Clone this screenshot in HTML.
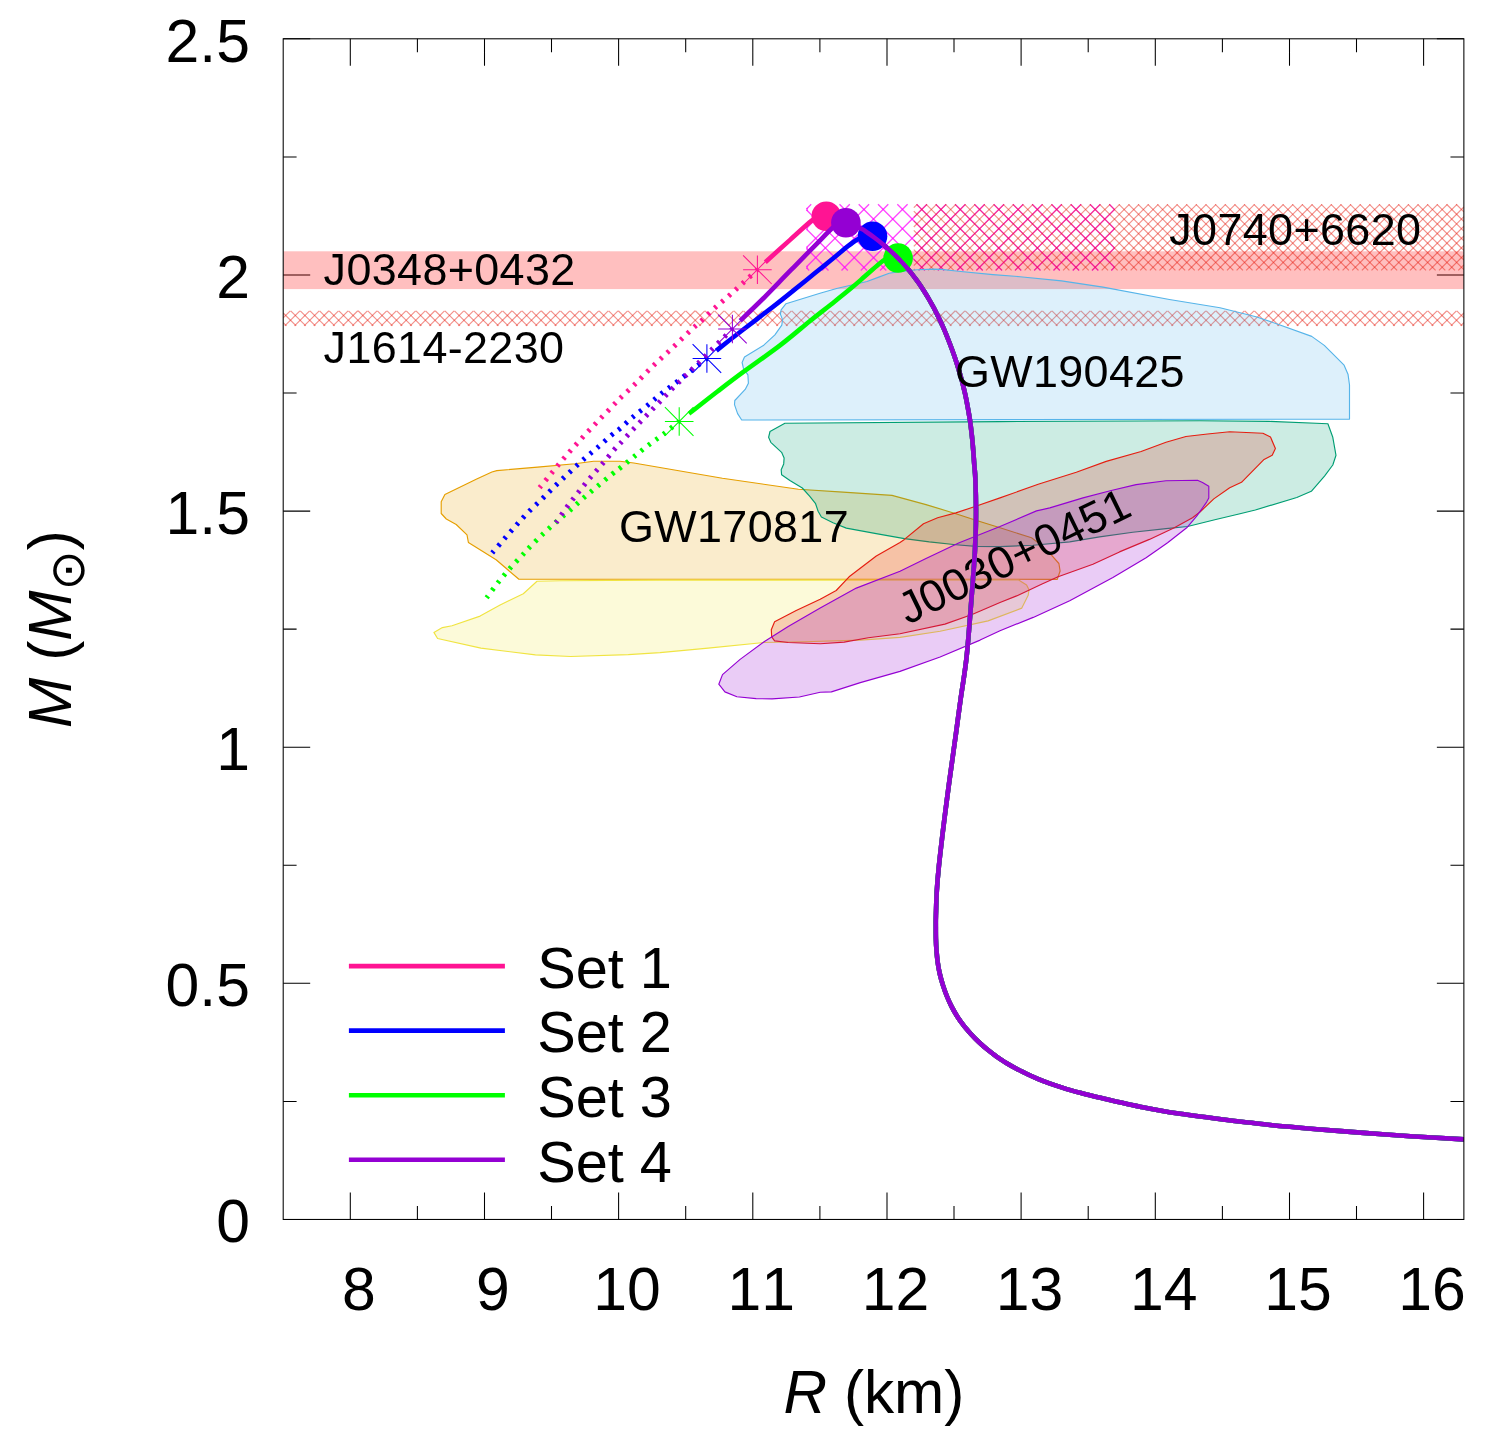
<!DOCTYPE html>
<html lang="en"><head><meta charset="utf-8"><title>Mass-radius relation</title>
<style>html,body{margin:0;padding:0;background:#fff;overflow:hidden}svg{display:block}text{font-family:"Liberation Sans",sans-serif;fill:#000;font-kerning:none}.an{letter-spacing:0.36px}</style>
</head><body>
<svg width="1498" height="1446" viewBox="0 0 1498 1446">
<rect width="1498" height="1446" fill="#fff"/>
<clipPath id="fr"><rect x="283.2" y="38.8" width="1180.6699999999998" height="1180.65"/></clipPath>
<path d="M350.3,1219.45V1192.45M350.3,38.8V65.8M484.5,1219.45V1192.45M484.5,38.8V65.8M618.6,1219.45V1192.45M618.6,38.8V65.8M752.8,1219.45V1192.45M752.8,38.8V65.8M887.0,1219.45V1192.45M887.0,38.8V65.8M1021.1,1219.45V1192.45M1021.1,38.8V65.8M1155.3,1219.45V1192.45M1155.3,38.8V65.8M1289.5,1219.45V1192.45M1289.5,38.8V65.8M1423.6,1219.45V1192.45M1423.6,38.8V65.8M417.4,1219.45V1206.05M417.4,38.8V52.199999999999996M551.5,1219.45V1206.05M551.5,38.8V52.199999999999996M685.7,1219.45V1206.05M685.7,38.8V52.199999999999996M819.9,1219.45V1206.05M819.9,38.8V52.199999999999996M954.0,1219.45V1206.05M954.0,38.8V52.199999999999996M1088.2,1219.45V1206.05M1088.2,38.8V52.199999999999996M1222.4,1219.45V1206.05M1222.4,38.8V52.199999999999996M1356.5,1219.45V1206.05M1356.5,38.8V52.199999999999996M283.2,1219.5H310.2M1463.87,1219.5H1436.87M283.2,1101.4H296.59999999999997M1463.87,1101.4H1450.4699999999998M283.2,983.3H310.2M1463.87,983.3H1436.87M283.2,865.3H296.59999999999997M1463.87,865.3H1450.4699999999998M283.2,747.2H310.2M1463.87,747.2H1436.87M283.2,629.1H296.59999999999997M1463.87,629.1H1450.4699999999998M283.2,511.1H310.2M1463.87,511.1H1436.87M283.2,393.0H296.59999999999997M1463.87,393.0H1450.4699999999998M283.2,274.9H310.2M1463.87,274.9H1436.87M283.2,156.9H296.59999999999997M1463.87,156.9H1450.4699999999998M283.2,38.8H310.2M1463.87,38.8H1436.87" stroke="#000" stroke-width="1.05" fill="none"/>
<g clip-path="url(#fr)">
<rect x="283.2" y="251.3" width="1180.6699999999998" height="37.8" fill="#ff0000" fill-opacity="0.25"/>
<path d="M283.2,322.6L286.5,325.9M283.2,313.0L296.2,325.9M290.7,310.8L305.8,325.9M300.3,310.8L315.4,325.9M310.0,310.8L325.1,325.9M319.6,310.8L334.7,325.9M329.2,310.8L344.3,325.9M338.9,310.8L354.0,325.9M348.5,310.8L363.6,325.9M358.1,310.8L373.3,325.9M367.8,310.8L382.9,325.9M377.4,310.8L392.5,325.9M387.1,310.8L402.2,325.9M396.7,310.8L411.8,325.9M406.3,310.8L421.4,325.9M416.0,310.8L431.1,325.9M425.6,310.8L440.7,325.9M435.2,310.8L450.4,325.9M444.9,310.8L460.0,325.9M454.5,310.8L469.6,325.9M464.2,310.8L479.3,325.9M473.8,310.8L488.9,325.9M483.4,310.8L498.5,325.9M493.1,310.8L508.2,325.9M502.7,310.8L517.8,325.9M512.3,310.8L527.4,325.9M522.0,310.8L537.1,325.9M531.6,310.8L546.7,325.9M541.2,310.8L556.4,325.9M550.9,310.8L566.0,325.9M560.5,310.8L575.6,325.9M570.2,310.8L585.3,325.9M579.8,310.8L594.9,325.9M589.4,310.8L604.5,325.9M599.1,310.8L614.2,325.9M608.7,310.8L623.8,325.9M618.3,310.8L633.5,325.9M628.0,310.8L643.1,325.9M637.6,310.8L652.7,325.9M647.3,310.8L662.4,325.9M656.9,310.8L672.0,325.9M666.5,310.8L681.6,325.9M676.2,310.8L691.3,325.9M685.8,310.8L700.9,325.9M695.4,310.8L710.6,325.9M705.1,310.8L720.2,325.9M714.7,310.8L729.8,325.9M724.4,310.8L739.5,325.9M734.0,310.8L749.1,325.9M743.6,310.8L758.7,325.9M753.3,310.8L768.4,325.9M762.9,310.8L778.0,325.9M772.5,310.8L787.6,325.9M782.2,310.8L797.3,325.9M791.8,310.8L806.9,325.9M801.4,310.8L816.6,325.9M811.1,310.8L826.2,325.9M820.7,310.8L835.8,325.9M830.4,310.8L845.5,325.9M840.0,310.8L855.1,325.9M849.6,310.8L864.7,325.9M859.3,310.8L874.4,325.9M868.9,310.8L884.0,325.9M878.5,310.8L893.7,325.9M888.2,310.8L903.3,325.9M897.8,310.8L912.9,325.9M907.5,310.8L922.6,325.9M917.1,310.8L932.2,325.9M926.7,310.8L941.8,325.9M936.4,310.8L951.5,325.9M946.0,310.8L961.1,325.9M955.6,310.8L970.8,325.9M965.3,310.8L980.4,325.9M974.9,310.8L990.0,325.9M984.6,310.8L999.7,325.9M994.2,310.8L1009.3,325.9M1003.8,310.8L1018.9,325.9M1013.5,310.8L1028.6,325.9M1023.1,310.8L1038.2,325.9M1032.7,310.8L1047.9,325.9M1042.4,310.8L1057.5,325.9M1052.0,310.8L1067.1,325.9M1061.7,310.8L1076.8,325.9M1071.3,310.8L1086.4,325.9M1080.9,310.8L1096.0,325.9M1090.6,310.8L1105.7,325.9M1100.2,310.8L1115.3,325.9M1109.8,310.8L1124.9,325.9M1119.5,310.8L1134.6,325.9M1129.1,310.8L1144.2,325.9M1138.7,310.8L1153.9,325.9M1148.4,310.8L1163.5,325.9M1158.0,310.8L1173.1,325.9M1167.7,310.8L1182.8,325.9M1177.3,310.8L1192.4,325.9M1186.9,310.8L1202.0,325.9M1196.6,310.8L1211.7,325.9M1206.2,310.8L1221.3,325.9M1215.8,310.8L1231.0,325.9M1225.5,310.8L1240.6,325.9M1235.1,310.8L1250.2,325.9M1244.8,310.8L1259.9,325.9M1254.4,310.8L1269.5,325.9M1264.0,310.8L1279.1,325.9M1273.7,310.8L1288.8,325.9M1283.3,310.8L1298.4,325.9M1292.9,310.8L1308.1,325.9M1302.6,310.8L1317.7,325.9M1312.2,310.8L1327.3,325.9M1321.9,310.8L1337.0,325.9M1331.5,310.8L1346.6,325.9M1341.1,310.8L1356.2,325.9M1350.8,310.8L1365.9,325.9M1360.4,310.8L1375.5,325.9M1370.0,310.8L1385.2,325.9M1379.7,310.8L1394.8,325.9M1389.3,310.8L1404.4,325.9M1398.9,310.8L1414.1,325.9M1408.6,310.8L1423.7,325.9M1418.2,310.8L1433.3,325.9M1427.9,310.8L1443.0,325.9M1437.5,310.8L1452.6,325.9M1447.1,310.8L1462.2,325.9M1456.8,310.8L1463.9,317.9" stroke="#e51e10" stroke-opacity="0.48" stroke-width="1.2" fill="none"/>
<path d="M283.2,317.9L290.3,310.8M284.8,325.9L299.9,310.8M294.5,325.9L309.6,310.8M304.1,325.9L319.2,310.8M313.7,325.9L328.9,310.8M323.4,325.9L338.5,310.8M333.0,325.9L348.1,310.8M342.6,325.9L357.8,310.8M352.3,325.9L367.4,310.8M361.9,325.9L377.0,310.8M371.6,325.9L386.7,310.8M381.2,325.9L396.3,310.8M390.8,325.9L405.9,310.8M400.5,325.9L415.6,310.8M410.1,325.9L425.2,310.8M419.7,325.9L434.9,310.8M429.4,325.9L444.5,310.8M439.0,325.9L454.1,310.8M448.7,325.9L463.8,310.8M458.3,325.9L473.4,310.8M467.9,325.9L483.0,310.8M477.6,325.9L492.7,310.8M487.2,325.9L502.3,310.8M496.8,325.9L512.0,310.8M506.5,325.9L521.6,310.8M516.1,325.9L531.2,310.8M525.8,325.9L540.9,310.8M535.4,325.9L550.5,310.8M545.0,325.9L560.1,310.8M554.7,325.9L569.8,310.8M564.3,325.9L579.4,310.8M573.9,325.9L589.1,310.8M583.6,325.9L598.7,310.8M593.2,325.9L608.3,310.8M602.9,325.9L618.0,310.8M612.5,325.9L627.6,310.8M622.1,325.9L637.2,310.8M631.8,325.9L646.9,310.8M641.4,325.9L656.5,310.8M651.0,325.9L666.1,310.8M660.7,325.9L675.8,310.8M670.3,325.9L685.4,310.8M679.9,325.9L695.1,310.8M689.6,325.9L704.7,310.8M699.2,325.9L714.3,310.8M708.9,325.9L724.0,310.8M718.5,325.9L733.6,310.8M728.1,325.9L743.2,310.8M737.8,325.9L752.9,310.8M747.4,325.9L762.5,310.8M757.0,325.9L772.2,310.8M766.7,325.9L781.8,310.8M776.3,325.9L791.4,310.8M786.0,325.9L801.1,310.8M795.6,325.9L810.7,310.8M805.2,325.9L820.3,310.8M814.9,325.9L830.0,310.8M824.5,325.9L839.6,310.8M834.1,325.9L849.3,310.8M843.8,325.9L858.9,310.8M853.4,325.9L868.5,310.8M863.1,325.9L878.2,310.8M872.7,325.9L887.8,310.8M882.3,325.9L897.4,310.8M892.0,325.9L907.1,310.8M901.6,325.9L916.7,310.8M911.2,325.9L926.4,310.8M920.9,325.9L936.0,310.8M930.5,325.9L945.6,310.8M940.1,325.9L955.3,310.8M949.8,325.9L964.9,310.8M959.4,325.9L974.5,310.8M969.1,325.9L984.2,310.8M978.7,325.9L993.8,310.8M988.3,325.9L1003.4,310.8M998.0,325.9L1013.1,310.8M1007.6,325.9L1022.7,310.8M1017.2,325.9L1032.4,310.8M1026.9,325.9L1042.0,310.8M1036.5,325.9L1051.6,310.8M1046.2,325.9L1061.3,310.8M1055.8,325.9L1070.9,310.8M1065.4,325.9L1080.5,310.8M1075.1,325.9L1090.2,310.8M1084.7,325.9L1099.8,310.8M1094.3,325.9L1109.5,310.8M1104.0,325.9L1119.1,310.8M1113.6,325.9L1128.7,310.8M1123.3,325.9L1138.4,310.8M1132.9,325.9L1148.0,310.8M1142.5,325.9L1157.6,310.8M1152.2,325.9L1167.3,310.8M1161.8,325.9L1176.9,310.8M1171.4,325.9L1186.6,310.8M1181.1,325.9L1196.2,310.8M1190.7,325.9L1205.8,310.8M1200.4,325.9L1215.5,310.8M1210.0,325.9L1225.1,310.8M1219.6,325.9L1234.7,310.8M1229.3,325.9L1244.4,310.8M1238.9,325.9L1254.0,310.8M1248.5,325.9L1263.6,310.8M1258.2,325.9L1273.3,310.8M1267.8,325.9L1282.9,310.8M1277.4,325.9L1292.6,310.8M1287.1,325.9L1302.2,310.8M1296.7,325.9L1311.8,310.8M1306.4,325.9L1321.5,310.8M1316.0,325.9L1331.1,310.8M1325.6,325.9L1340.7,310.8M1335.3,325.9L1350.4,310.8M1344.9,325.9L1360.0,310.8M1354.5,325.9L1369.7,310.8M1364.2,325.9L1379.3,310.8M1373.8,325.9L1388.9,310.8M1383.5,325.9L1398.6,310.8M1393.1,325.9L1408.2,310.8M1402.7,325.9L1417.8,310.8M1412.4,325.9L1427.5,310.8M1422.0,325.9L1437.1,310.8M1431.6,325.9L1446.8,310.8M1441.3,325.9L1456.4,310.8M1450.9,325.9L1463.9,313.0M1460.6,325.9L1463.9,322.6" stroke="#e51e10" stroke-opacity="0.48" stroke-width="1.2" fill="none"/>
<path d="M806.6,267.8L809.2,270.4M806.6,248.5L828.5,270.4M806.6,229.2L847.8,270.4M806.6,210.0L867.0,270.4M820.2,204.3L886.3,270.4M839.5,204.3L905.6,270.4M858.7,204.3L924.9,270.4M878.0,204.3L944.1,270.4M897.3,204.3L963.4,270.4M916.6,204.3L982.7,270.4M935.8,204.3L1002.0,270.4M955.1,204.3L1021.2,270.4M974.4,204.3L1040.5,270.4M993.7,204.3L1059.8,270.4M1012.9,204.3L1079.1,270.4M1032.2,204.3L1098.3,270.4M1051.5,204.3L1114.7,267.5M1070.8,204.3L1114.7,248.2M1090.0,204.3L1114.7,229.0M1109.3,204.3L1114.7,209.7" stroke="#ff00ff" stroke-opacity="0.72" stroke-width="1.35" fill="none"/>
<path d="M806.6,208.9L811.2,204.3M806.6,228.2L830.5,204.3M806.6,247.5L849.8,204.3M806.6,266.7L869.1,204.3M822.2,270.4L888.3,204.3M841.5,270.4L907.6,204.3M860.8,270.4L926.9,204.3M880.0,270.4L946.1,204.3M899.3,270.4L965.4,204.3M918.6,270.4L984.7,204.3M937.9,270.4L1004.0,204.3M957.1,270.4L1023.2,204.3M976.4,270.4L1042.5,204.3M995.7,270.4L1061.8,204.3M1015.0,270.4L1081.1,204.3M1034.2,270.4L1100.3,204.3M1053.5,270.4L1114.7,209.2M1072.8,270.4L1114.7,228.5M1092.0,270.4L1114.7,247.8M1111.3,270.4L1114.7,267.0" stroke="#ff00ff" stroke-opacity="0.72" stroke-width="1.35" fill="none"/>
<path d="M807.0,208.5V210.4M807.0,227.8V229.6M807.0,247.1V248.9M807.0,266.3V268.2" stroke="#ff00ff" stroke-opacity="0.72" stroke-width="1.35" stroke-linecap="round" fill="none"/>
<path d="M913.8,269.0L915.2,270.4M913.8,259.3L924.9,270.4M913.8,249.7L934.5,270.4M913.8,240.1L944.1,270.4M913.8,230.4L953.8,270.4M913.8,220.8L963.4,270.4M913.8,211.1L973.1,270.4M916.6,204.3L982.7,270.4M926.2,204.3L992.3,270.4M935.8,204.3L1002.0,270.4M945.5,204.3L1011.6,270.4M955.1,204.3L1021.2,270.4M964.8,204.3L1030.9,270.4M974.4,204.3L1040.5,270.4M984.0,204.3L1050.1,270.4M993.7,204.3L1059.8,270.4M1003.3,204.3L1069.4,270.4M1012.9,204.3L1079.1,270.4M1022.6,204.3L1088.7,270.4M1032.2,204.3L1098.3,270.4M1041.9,204.3L1108.0,270.4M1051.5,204.3L1117.6,270.4M1061.1,204.3L1127.2,270.4M1070.8,204.3L1136.9,270.4M1080.4,204.3L1146.5,270.4M1090.0,204.3L1156.2,270.4M1099.7,204.3L1165.8,270.4M1109.3,204.3L1175.4,270.4M1119.0,204.3L1185.1,270.4M1128.6,204.3L1194.7,270.4M1138.2,204.3L1204.3,270.4M1147.9,204.3L1214.0,270.4M1157.5,204.3L1223.6,270.4M1167.1,204.3L1233.3,270.4M1176.8,204.3L1242.9,270.4M1186.4,204.3L1252.5,270.4M1196.0,204.3L1262.2,270.4M1205.7,204.3L1271.8,270.4M1215.3,204.3L1281.4,270.4M1225.0,204.3L1291.1,270.4M1234.6,204.3L1300.7,270.4M1244.2,204.3L1310.3,270.4M1253.9,204.3L1320.0,270.4M1263.5,204.3L1329.6,270.4M1273.1,204.3L1339.3,270.4M1282.8,204.3L1348.9,270.4M1292.4,204.3L1358.5,270.4M1302.1,204.3L1368.2,270.4M1311.7,204.3L1377.8,270.4M1321.3,204.3L1387.4,270.4M1331.0,204.3L1397.1,270.4M1340.6,204.3L1406.7,270.4M1350.2,204.3L1416.4,270.4M1359.9,204.3L1426.0,270.4M1369.5,204.3L1435.6,270.4M1379.2,204.3L1445.3,270.4M1388.8,204.3L1454.9,270.4M1398.4,204.3L1463.9,269.7M1408.1,204.3L1463.9,260.1M1417.7,204.3L1463.9,250.5M1427.3,204.3L1463.9,240.8M1437.0,204.3L1463.9,231.2M1446.6,204.3L1463.9,221.5M1456.2,204.3L1463.9,211.9" stroke="#e51e10" stroke-opacity="0.48" stroke-width="1.2" fill="none"/>
<path d="M913.8,207.7L917.2,204.3M913.8,217.4L926.9,204.3M913.8,227.0L936.5,204.3M913.8,236.7L946.1,204.3M913.8,246.3L955.8,204.3M913.8,255.9L965.4,204.3M913.8,265.6L975.1,204.3M918.6,270.4L984.7,204.3M928.2,270.4L994.3,204.3M937.9,270.4L1004.0,204.3M947.5,270.4L1013.6,204.3M957.1,270.4L1023.2,204.3M966.8,270.4L1032.9,204.3M976.4,270.4L1042.5,204.3M986.0,270.4L1052.2,204.3M995.7,270.4L1061.8,204.3M1005.3,270.4L1071.4,204.3M1015.0,270.4L1081.1,204.3M1024.6,270.4L1090.7,204.3M1034.2,270.4L1100.3,204.3M1043.9,270.4L1110.0,204.3M1053.5,270.4L1119.6,204.3M1063.1,270.4L1129.3,204.3M1072.8,270.4L1138.9,204.3M1082.4,270.4L1148.5,204.3M1092.0,270.4L1158.2,204.3M1101.7,270.4L1167.8,204.3M1111.3,270.4L1177.4,204.3M1121.0,270.4L1187.1,204.3M1130.6,270.4L1196.7,204.3M1140.2,270.4L1206.3,204.3M1149.9,270.4L1216.0,204.3M1159.5,270.4L1225.6,204.3M1169.1,270.4L1235.3,204.3M1178.8,270.4L1244.9,204.3M1188.4,270.4L1254.5,204.3M1198.1,270.4L1264.2,204.3M1207.7,270.4L1273.8,204.3M1217.3,270.4L1283.4,204.3M1227.0,270.4L1293.1,204.3M1236.6,270.4L1302.7,204.3M1246.2,270.4L1312.4,204.3M1255.9,270.4L1322.0,204.3M1265.5,270.4L1331.6,204.3M1275.2,270.4L1341.3,204.3M1284.8,270.4L1350.9,204.3M1294.4,270.4L1360.5,204.3M1304.1,270.4L1370.2,204.3M1313.7,270.4L1379.8,204.3M1323.3,270.4L1389.5,204.3M1333.0,270.4L1399.1,204.3M1342.6,270.4L1408.7,204.3M1352.2,270.4L1418.4,204.3M1361.9,270.4L1428.0,204.3M1371.5,270.4L1437.6,204.3M1381.2,270.4L1447.3,204.3M1390.8,270.4L1456.9,204.3M1400.4,270.4L1463.9,207.0M1410.1,270.4L1463.9,216.6M1419.7,270.4L1463.9,226.2M1429.3,270.4L1463.9,235.9M1439.0,270.4L1463.9,245.5M1448.6,270.4L1463.9,255.2M1458.3,270.4L1463.9,264.8" stroke="#e51e10" stroke-opacity="0.48" stroke-width="1.2" fill="none"/>
<path d="M518.9,579.2L496.1,559.8L468.4,542.5L467.0,534.9L456.2,524.5L446.3,519.0L441.2,513.5L441.2,501.7L444.9,494.5L476.7,478.9L491.9,472.0L496.8,470.6L537.6,467.1L574.9,463.7L593.6,461.3L620.0,461.2L633.8,463.0L722.4,478.2L798.4,489.3L843.0,492.1L892.0,495.4L926.0,504.6L955.9,513.7L975.8,520.3L1000.0,527.8L1031.5,537.8L1038.2,542.7L1051.5,555.2L1058.9,563.5L1060.1,571.0L1057.3,579.3Z" fill="#e69f00" fill-opacity="0.2" stroke="none"/>
<path d="M518.9,579.2L496.1,559.8L468.4,542.5L467.0,534.9L456.2,524.5L446.3,519.0L441.2,513.5L441.2,501.7L444.9,494.5L476.7,478.9L491.9,472.0L496.8,470.6L537.6,467.1L574.9,463.7L593.6,461.3L620.0,461.2L633.8,463.0L722.4,478.2L798.4,489.3L843.0,492.1L892.0,495.4L926.0,504.6L955.9,513.7L975.8,520.3L1000.0,527.8L1031.5,537.8L1038.2,542.7L1051.5,555.2L1058.9,563.5L1060.1,571.0L1057.3,579.3Z" fill="none" stroke="#e69f00" stroke-width="1.15" stroke-linejoin="round"/>
<path d="M1018.6,580.0L660.0,580.1L560.0,580.7L537.0,581.3L523.3,593.7L500.1,604.9L480.1,616.1L452.0,625.7L442.4,627.6L433.9,632.4L437.6,638.5L480.9,648.1L535.4,654.9L570.6,656.5L628.3,654.6L660.0,652.6L708.1,648.1L764.1,642.5L804.2,641.7L860.3,640.1L900.0,637.4L940.1,631.3L988.1,620.9L1021.8,608.1L1028.2,595.3L1029.0,589.7L1026.6,584.9Z" fill="#f0e442" fill-opacity="0.2" stroke="none"/>
<path d="M1018.6,580.0L660.0,580.1L560.0,580.7L537.0,581.3L523.3,593.7L500.1,604.9L480.1,616.1L452.0,625.7L442.4,627.6L433.9,632.4L437.6,638.5L480.9,648.1L535.4,654.9L570.6,656.5L628.3,654.6L660.0,652.6L708.1,648.1L764.1,642.5L804.2,641.7L860.3,640.1L900.0,637.4L940.1,631.3L988.1,620.9L1021.8,608.1L1028.2,595.3L1029.0,589.7L1026.6,584.9Z" fill="none" stroke="#f0e442" stroke-width="1.15" stroke-linejoin="round"/>
<path d="M741.7,420.0L737.6,413.6L734.5,404.6L734.8,400.5L745.2,389.4L748.4,383.2L747.9,374.9L743.5,368.7L742.1,362.5L744.5,356.9L763.8,345.2L774.9,334.8L781.8,325.1L782.5,319.6L780.4,314.1L781.1,309.9L786.0,303.7L820.0,293.3L836.6,288.5L867.0,281.5L878.1,277.4L889.2,273.3L897.5,271.9L916.8,269.8L933.4,269.1L941.7,269.4L958.3,271.2L992.9,274.6L1020.0,276.7L1061.5,280.9L1103.0,287.1L1169.4,299.5L1220.0,307.8L1256.0,316.7L1279.3,324.7L1311.7,336.4L1324.3,345.4L1344.1,365.2L1348.0,374.2L1349.5,385.0L1349.5,419.1Z" fill="#56b4e9" fill-opacity="0.2" stroke="none"/>
<path d="M741.7,420.0L737.6,413.6L734.5,404.6L734.8,400.5L745.2,389.4L748.4,383.2L747.9,374.9L743.5,368.7L742.1,362.5L744.5,356.9L763.8,345.2L774.9,334.8L781.8,325.1L782.5,319.6L780.4,314.1L781.1,309.9L786.0,303.7L820.0,293.3L836.6,288.5L867.0,281.5L878.1,277.4L889.2,273.3L897.5,271.9L916.8,269.8L933.4,269.1L941.7,269.4L958.3,271.2L992.9,274.6L1020.0,276.7L1061.5,280.9L1103.0,287.1L1169.4,299.5L1220.0,307.8L1256.0,316.7L1279.3,324.7L1311.7,336.4L1324.3,345.4L1344.1,365.2L1348.0,374.2L1349.5,385.0L1349.5,419.1Z" fill="none" stroke="#56b4e9" stroke-width="1.15" stroke-linejoin="round"/>
<path d="M784.9,423.2L770.0,431.5L768.6,437.3L770.8,442.3L781.6,452.3L784.1,458.1L783.7,463.9L781.2,469.7L781.6,474.7L789.9,480.5L802.3,488.0L809.8,496.3L815.6,503.7L818.1,511.2L821.4,517.0L833.0,522.8L846.3,528.1L876.2,533.6L904.4,538.6L929.3,541.9L955.9,544.7L975.8,546.4L1000.0,546.6L1033.2,545.2L1069.7,541.9L1099.6,536.9L1132.8,532.3L1166.0,528.6L1187.6,526.5L1215.8,519.5L1240.0,513.7L1255.3,510.0L1296.8,497.5L1311.3,491.3L1324.5,476.1L1332.8,465.0L1336.0,455.3L1332.8,437.3L1327.9,423.8L1269.2,421.4L1200.0,420.7L1000.0,421.6Z" fill="#009e73" fill-opacity="0.2" stroke="none"/>
<path d="M784.9,423.2L770.0,431.5L768.6,437.3L770.8,442.3L781.6,452.3L784.1,458.1L783.7,463.9L781.2,469.7L781.6,474.7L789.9,480.5L802.3,488.0L809.8,496.3L815.6,503.7L818.1,511.2L821.4,517.0L833.0,522.8L846.3,528.1L876.2,533.6L904.4,538.6L929.3,541.9L955.9,544.7L975.8,546.4L1000.0,546.6L1033.2,545.2L1069.7,541.9L1099.6,536.9L1132.8,532.3L1166.0,528.6L1187.6,526.5L1215.8,519.5L1240.0,513.7L1255.3,510.0L1296.8,497.5L1311.3,491.3L1324.5,476.1L1332.8,465.0L1336.0,455.3L1332.8,437.3L1327.9,423.8L1269.2,421.4L1200.0,420.7L1000.0,421.6Z" fill="none" stroke="#009e73" stroke-width="1.15" stroke-linejoin="round"/>
<path d="M820.2,643.7L788.2,642.5L774.6,640.9L771.7,636.9L771.3,629.7L774.6,621.7L796.2,610.5L820.2,599.3L836.2,590.5L849.1,576.8L876.3,556.0L900.0,542.4L904.4,539.4L923.5,523.7L937.6,517.8L955.9,512.9L975.8,506.2L1000.0,497.9L1038.2,484.3L1076.3,472.2L1106.2,461.4L1141.1,451.5L1166.0,442.3L1185.9,436.5L1207.5,434.0L1229.7,431.8L1262.9,433.2L1270.5,437.1L1275.4,448.4L1272.2,455.3L1263.6,459.8L1241.5,482.3L1229.7,487.8L1213.8,498.9L1200.0,512.0L1192.5,517.8L1174.3,527.8L1149.4,539.4L1119.5,551.9L1092.9,564.3L1058.1,576.8L1041.5,584.2L1016.6,595.9L1000.0,602.5L972.1,614.5L944.9,624.1L900.0,633.7L868.3,637.7L844.2,642.1Z" fill="#e51e10" fill-opacity="0.2" stroke="none"/>
<path d="M820.2,643.7L788.2,642.5L774.6,640.9L771.7,636.9L771.3,629.7L774.6,621.7L796.2,610.5L820.2,599.3L836.2,590.5L849.1,576.8L876.3,556.0L900.0,542.4L904.4,539.4L923.5,523.7L937.6,517.8L955.9,512.9L975.8,506.2L1000.0,497.9L1038.2,484.3L1076.3,472.2L1106.2,461.4L1141.1,451.5L1166.0,442.3L1185.9,436.5L1207.5,434.0L1229.7,431.8L1262.9,433.2L1270.5,437.1L1275.4,448.4L1272.2,455.3L1263.6,459.8L1241.5,482.3L1229.7,487.8L1213.8,498.9L1200.0,512.0L1192.5,517.8L1174.3,527.8L1149.4,539.4L1119.5,551.9L1092.9,564.3L1058.1,576.8L1041.5,584.2L1016.6,595.9L1000.0,602.5L972.1,614.5L944.9,624.1L900.0,633.7L868.3,637.7L844.2,642.1Z" fill="none" stroke="#e51e10" stroke-width="1.15" stroke-linejoin="round"/>
<path d="M772.1,698.9L756.1,698.6L736.9,696.7L724.9,691.9L718.8,684.2L722.5,674.6L740.1,659.4L764.1,641.7L788.2,626.5L820.2,608.1L856.3,588.1L900.0,571.2L926.0,558.5L959.2,542.7L1000.0,526.5L1036.5,510.9L1049.8,507.9L1083.0,497.9L1111.2,490.5L1136.1,484.6L1166.0,480.8L1197.5,480.3L1202.5,482.5L1208.8,486.3L1208.8,497.9L1206.6,502.1L1196.7,516.2L1186.7,527.8L1167.6,542.7L1146.1,557.7L1112.9,577.6L1069.7,600.8L1033.2,617.4L1000.0,630.7L980.1,640.1L940.1,657.0L900.0,671.4L860.3,682.6L831.4,691.9L820.2,692.2L799.4,697.0Z" fill="#9400d3" fill-opacity="0.2" stroke="none"/>
<path d="M772.1,698.9L756.1,698.6L736.9,696.7L724.9,691.9L718.8,684.2L722.5,674.6L740.1,659.4L764.1,641.7L788.2,626.5L820.2,608.1L856.3,588.1L900.0,571.2L926.0,558.5L959.2,542.7L1000.0,526.5L1036.5,510.9L1049.8,507.9L1083.0,497.9L1111.2,490.5L1136.1,484.6L1166.0,480.8L1197.5,480.3L1202.5,482.5L1208.8,486.3L1208.8,497.9L1206.6,502.1L1196.7,516.2L1186.7,527.8L1167.6,542.7L1146.1,557.7L1112.9,577.6L1069.7,600.8L1033.2,617.4L1000.0,630.7L980.1,640.1L940.1,657.0L900.0,671.4L860.3,682.6L831.4,691.9L820.2,692.2L799.4,697.0Z" fill="none" stroke="#9400d3" stroke-width="1.15" stroke-linejoin="round"/>
<text class="an" transform="translate(907.8,625.0) rotate(-26)" font-size="44.9">J0030+0451</text>
<path d="M539.6,487.7C541.8,485.1 548.4,476.9 552.5,472.0C556.6,467.1 560.1,462.7 564.1,458.1C568.1,453.5 572.1,448.9 576.3,444.3C580.4,439.7 584.7,435.0 589.0,430.5C593.3,426.0 597.6,421.6 601.9,417.1C606.2,412.7 611.5,407.2 614.7,403.8C618.0,400.4 618.1,400.2 621.4,397.0C624.7,393.8 630.1,388.9 634.5,384.6C638.9,380.3 643.3,375.6 647.7,371.2C652.1,366.8 656.6,362.5 661.1,358.3C665.6,354.1 670.1,350.2 674.6,345.9C679.1,341.6 683.7,337.0 688.2,332.7C692.8,328.4 697.4,324.5 701.9,320.3C706.4,316.1 710.8,311.5 715.4,307.4C720.0,303.2 724.7,299.5 729.3,295.4C733.9,291.3 738.4,287.2 743.1,282.9C747.8,278.6 755.0,271.9 757.4,269.7" fill="none" stroke="#ff1493" stroke-width="5.0" stroke-dasharray="2.7 6.6" stroke-dashoffset="0.2"/>
<path d="M743.1,269.7H771.7M757.4,255.4V284.0M743.1,255.4L771.7,284.0M743.1,284.0L771.7,255.4" stroke="#ff1493" stroke-width="1.05" fill="none"/>
<path d="M765.3,262.2C769.4,258.5 782.1,247.0 789.8,240.1C797.5,233.2 806.6,224.7 811.4,220.9C816.2,217.1 816.0,218.2 818.5,217.4C821.0,216.6 825.0,216.4 826.3,216.2" fill="none" stroke="#ff1493" stroke-width="4.6" stroke-linejoin="round"/>
<path d="M826.3,216.2C827.9,216.7 832.7,217.9 836.0,219.0C839.3,220.1 842.9,221.7 845.9,222.8C848.9,223.9 851.2,224.5 854.0,225.6C856.8,226.7 860.1,228.1 862.4,229.3C864.7,230.5 865.8,231.6 867.9,233.0C870.0,234.4 872.5,236.2 874.9,238.0C877.3,239.8 880.1,242.0 882.5,244.0C884.9,246.0 887.3,248.0 889.5,250.0C891.7,252.0 893.9,254.0 895.9,256.0C897.9,258.0 899.8,260.0 901.7,262.0C903.6,264.0 905.1,265.7 907.1,268.0C909.1,270.3 911.5,273.3 913.5,276.0C915.5,278.7 917.5,281.3 919.4,284.0C921.2,286.7 922.9,289.3 924.6,292.0C926.3,294.7 927.9,297.3 929.4,300.0C930.9,302.7 932.5,305.3 933.9,308.0C935.3,310.7 936.6,313.3 937.9,316.0C939.2,318.7 940.5,321.3 941.7,324.0C942.9,326.7 944.1,329.3 945.2,332.0C946.3,334.7 947.2,337.0 948.4,340.0C949.6,343.0 951.0,346.7 952.2,350.0C953.4,353.3 954.6,356.7 955.7,360.0C956.8,363.3 957.8,366.7 958.8,370.0C959.8,373.3 960.8,376.7 961.7,380.0C962.6,383.3 963.4,386.7 964.2,390.0C965.0,393.3 965.7,396.3 966.4,400.0C967.1,403.7 967.9,408.0 968.6,412.0C969.3,416.0 970.0,420.0 970.5,424.0C971.0,428.0 971.4,431.7 971.9,436.0C972.4,440.3 972.8,445.2 973.2,450.0C973.6,454.8 973.9,460.0 974.3,465.0C974.7,470.0 975.1,471.5 975.4,480.0C975.7,488.5 976.1,504.6 976.0,516.2C975.9,527.8 975.5,538.8 975.0,549.4C974.5,560.0 973.8,568.3 972.9,580.1C972.0,591.9 970.9,606.6 969.8,620.0C968.7,633.4 967.8,646.9 966.2,660.2C964.7,673.5 962.2,687.8 960.5,700.0C958.8,712.2 957.5,722.1 956.0,733.2C954.5,744.3 952.9,755.3 951.4,766.4C949.9,777.5 948.3,788.5 946.9,799.6C945.5,810.7 944.0,821.7 942.7,832.8C941.4,843.9 939.9,856.3 938.9,866.0C937.9,875.7 937.3,882.6 936.8,890.9C936.3,899.2 936.1,909.8 935.9,915.8C935.7,921.8 935.8,923.2 935.8,927.0C935.8,930.8 935.8,934.9 935.9,938.8C936.0,942.7 936.2,946.7 936.5,950.6C936.8,954.5 937.2,958.4 937.7,962.3C938.2,966.2 938.9,970.1 939.8,973.9C940.7,977.7 941.7,981.4 942.9,985.1C944.1,988.8 945.4,992.5 946.8,996.0C948.2,999.5 949.8,1003.0 951.5,1006.4C953.2,1009.8 955.1,1013.0 957.1,1016.2C959.1,1019.4 961.3,1022.4 963.6,1025.4C965.9,1028.4 968.4,1031.2 970.9,1034.0C973.4,1036.8 976.0,1039.4 978.8,1042.0C981.5,1044.6 984.4,1047.1 987.4,1049.5C990.4,1051.9 993.5,1054.3 996.6,1056.6C999.8,1058.8 1003.0,1061.0 1006.3,1063.0C1009.6,1065.0 1013.0,1066.9 1016.5,1068.7C1020.0,1070.5 1023.5,1072.3 1027.0,1074.0C1030.5,1075.7 1034.2,1077.3 1037.8,1078.8C1041.4,1080.3 1045.1,1081.8 1048.8,1083.1C1052.5,1084.4 1056.3,1085.7 1060.0,1086.9C1063.7,1088.1 1067.5,1089.3 1071.2,1090.4C1075.0,1091.5 1077.8,1092.2 1082.5,1093.4C1087.2,1094.6 1093.7,1096.3 1099.2,1097.6C1104.8,1098.9 1109.0,1099.9 1115.8,1101.4C1122.6,1102.9 1129.8,1104.7 1140.0,1106.7C1150.2,1108.7 1162.8,1111.2 1176.7,1113.3C1190.6,1115.4 1207.9,1117.6 1223.5,1119.6C1239.1,1121.5 1254.6,1123.4 1270.2,1125.0C1285.8,1126.6 1301.3,1127.9 1316.9,1129.2C1332.5,1130.5 1348.0,1131.7 1363.6,1132.9C1379.2,1134.1 1393.7,1135.1 1410.4,1136.2C1427.1,1137.3 1455.1,1138.9 1464.0,1139.4" fill="none" stroke="#ff1493" stroke-width="4.6" stroke-linejoin="round"/>
<circle cx="826.3" cy="216.2" r="14.8" fill="#ff1493"/>
<path d="M492.2,552.9C494.4,550.4 501.1,542.6 505.3,537.7C509.5,532.9 513.4,528.4 517.5,523.8C521.6,519.2 525.9,514.7 530.2,510.3C534.5,505.9 539.0,501.9 543.4,497.6C547.8,493.3 552.2,488.7 556.7,484.4C561.2,480.1 565.8,475.8 570.3,471.6C574.8,467.4 579.3,463.2 583.9,459.1C588.5,455.0 593.4,451.1 598.0,447.1C602.6,443.1 608.0,438.1 611.8,434.9C615.6,431.7 617.2,431.0 620.7,428.0C624.2,425.0 628.6,420.6 633.1,416.8C637.6,413.0 643.0,409.1 647.7,405.2C652.4,401.3 656.7,397.4 661.5,393.5C666.3,389.6 671.6,385.9 676.7,382.0C681.8,378.1 686.9,374.0 691.9,370.1C696.9,366.2 704.4,360.4 706.9,358.5" fill="none" stroke="#0000ff" stroke-width="5.0" stroke-dasharray="2.7 6.6" stroke-dashoffset="0.2"/>
<path d="M692.6,358.5H721.2M706.9,344.2V372.8M692.6,344.2L721.2,372.8M692.6,372.8L721.2,344.2" stroke="#0000ff" stroke-width="1.05" fill="none"/>
<path d="M716.4,350.6C720.8,347.1 733.5,337.1 743.0,329.8C752.5,322.5 764.7,313.2 773.2,306.6C781.7,300.0 787.0,295.7 793.9,290.1C800.8,284.6 807.8,278.9 814.7,273.3C821.6,267.7 829.9,261.0 835.4,256.5C840.9,252.0 844.2,249.0 847.9,246.2C851.6,243.3 854.9,240.9 857.7,239.4C860.6,237.9 862.5,237.5 865.0,237.0C867.5,236.5 871.2,236.4 872.5,236.3" fill="none" stroke="#0000ff" stroke-width="4.6" stroke-linejoin="round"/>
<path d="M872.5,236.3C874.2,237.6 879.7,241.7 882.5,244.0C885.3,246.3 887.3,248.0 889.5,250.0C891.7,252.0 893.9,254.0 895.9,256.0C897.9,258.0 899.8,260.0 901.7,262.0C903.6,264.0 905.1,265.7 907.1,268.0C909.1,270.3 911.5,273.3 913.5,276.0C915.5,278.7 917.5,281.3 919.4,284.0C921.2,286.7 922.9,289.3 924.6,292.0C926.3,294.7 927.9,297.3 929.4,300.0C930.9,302.7 932.5,305.3 933.9,308.0C935.3,310.7 936.6,313.3 937.9,316.0C939.2,318.7 940.5,321.3 941.7,324.0C942.9,326.7 944.1,329.3 945.2,332.0C946.3,334.7 947.2,337.0 948.4,340.0C949.6,343.0 951.0,346.7 952.2,350.0C953.4,353.3 954.6,356.7 955.7,360.0C956.8,363.3 957.8,366.7 958.8,370.0C959.8,373.3 960.8,376.7 961.7,380.0C962.6,383.3 963.4,386.7 964.2,390.0C965.0,393.3 965.7,396.3 966.4,400.0C967.1,403.7 967.9,408.0 968.6,412.0C969.3,416.0 970.0,420.0 970.5,424.0C971.0,428.0 971.4,431.7 971.9,436.0C972.4,440.3 972.8,445.2 973.2,450.0C973.6,454.8 973.9,460.0 974.3,465.0C974.7,470.0 975.1,471.5 975.4,480.0C975.7,488.5 976.1,504.6 976.0,516.2C975.9,527.8 975.5,538.8 975.0,549.4C974.5,560.0 973.8,568.3 972.9,580.1C972.0,591.9 970.9,606.6 969.8,620.0C968.7,633.4 967.8,646.9 966.2,660.2C964.7,673.5 962.2,687.8 960.5,700.0C958.8,712.2 957.5,722.1 956.0,733.2C954.5,744.3 952.9,755.3 951.4,766.4C949.9,777.5 948.3,788.5 946.9,799.6C945.5,810.7 944.0,821.7 942.7,832.8C941.4,843.9 939.9,856.3 938.9,866.0C937.9,875.7 937.3,882.6 936.8,890.9C936.3,899.2 936.1,909.8 935.9,915.8C935.7,921.8 935.8,923.2 935.8,927.0C935.8,930.8 935.8,934.9 935.9,938.8C936.0,942.7 936.2,946.7 936.5,950.6C936.8,954.5 937.2,958.4 937.7,962.3C938.2,966.2 938.9,970.1 939.8,973.9C940.7,977.7 941.7,981.4 942.9,985.1C944.1,988.8 945.4,992.5 946.8,996.0C948.2,999.5 949.8,1003.0 951.5,1006.4C953.2,1009.8 955.1,1013.0 957.1,1016.2C959.1,1019.4 961.3,1022.4 963.6,1025.4C965.9,1028.4 968.4,1031.2 970.9,1034.0C973.4,1036.8 976.0,1039.4 978.8,1042.0C981.5,1044.6 984.4,1047.1 987.4,1049.5C990.4,1051.9 993.5,1054.3 996.6,1056.6C999.8,1058.8 1003.0,1061.0 1006.3,1063.0C1009.6,1065.0 1013.0,1066.9 1016.5,1068.7C1020.0,1070.5 1023.5,1072.3 1027.0,1074.0C1030.5,1075.7 1034.2,1077.3 1037.8,1078.8C1041.4,1080.3 1045.1,1081.8 1048.8,1083.1C1052.5,1084.4 1056.3,1085.7 1060.0,1086.9C1063.7,1088.1 1067.5,1089.3 1071.2,1090.4C1075.0,1091.5 1077.8,1092.2 1082.5,1093.4C1087.2,1094.6 1093.7,1096.3 1099.2,1097.6C1104.8,1098.9 1109.0,1099.9 1115.8,1101.4C1122.6,1102.9 1129.8,1104.7 1140.0,1106.7C1150.2,1108.7 1162.8,1111.2 1176.7,1113.3C1190.6,1115.4 1207.9,1117.6 1223.5,1119.6C1239.1,1121.5 1254.6,1123.4 1270.2,1125.0C1285.8,1126.6 1301.3,1127.9 1316.9,1129.2C1332.5,1130.5 1348.0,1131.7 1363.6,1132.9C1379.2,1134.1 1393.7,1135.1 1410.4,1136.2C1427.1,1137.3 1455.1,1138.9 1464.0,1139.4" fill="none" stroke="#0000ff" stroke-width="4.6" stroke-linejoin="round"/>
<circle cx="872.5" cy="236.3" r="14.8" fill="#0000ff"/>
<path d="M486.6,597.8C488.6,595.2 494.5,587.0 498.5,582.0C502.5,577.0 506.4,572.4 510.5,567.7C514.6,563.1 520.2,557.5 523.3,554.1C526.4,550.8 526.1,550.9 529.3,547.6C532.5,544.3 537.9,538.8 542.4,534.5C546.9,530.2 551.6,525.9 556.2,521.8C560.9,517.7 565.7,514.0 570.3,510.0C574.9,506.0 579.2,501.7 583.9,497.6C588.6,493.5 593.6,489.5 598.4,485.5C603.2,481.5 608.8,476.8 612.5,473.8C616.2,470.8 617.1,470.4 620.7,467.5C624.3,464.6 629.5,460.3 634.2,456.5C638.9,452.7 644.0,448.5 649.0,444.7C654.0,440.9 659.3,437.4 664.3,433.5C669.3,429.6 676.7,423.5 679.2,421.5" fill="none" stroke="#00ff00" stroke-width="5.0" stroke-dasharray="2.7 6.6" stroke-dashoffset="0.2"/>
<path d="M664.9,421.5H693.5M679.2,407.2V435.8M664.9,407.2L693.5,435.8M664.9,435.8L693.5,407.2" stroke="#00ff00" stroke-width="1.05" fill="none"/>
<path d="M689.0,413.7C693.9,409.9 709.1,397.9 718.1,391.0C727.1,384.1 732.7,379.8 743.0,372.2C753.3,364.6 768.9,353.9 780.0,345.4C791.1,336.9 801.2,328.1 809.7,321.2C818.2,314.3 824.5,309.6 831.3,304.2C838.1,298.8 845.2,293.2 850.7,288.6C856.2,284.0 860.0,280.6 864.6,276.6C869.2,272.6 875.1,267.4 878.4,264.6C881.7,261.8 882.5,260.8 884.6,259.7C886.7,258.6 888.8,258.6 891.0,258.3C893.2,258.0 896.9,258.1 898.1,258.0" fill="none" stroke="#00ff00" stroke-width="4.6" stroke-linejoin="round"/>
<path d="M898.1,258.0C898.7,258.7 900.2,260.3 901.7,262.0C903.2,263.7 905.1,265.7 907.1,268.0C909.1,270.3 911.5,273.3 913.5,276.0C915.5,278.7 917.5,281.3 919.4,284.0C921.2,286.7 922.9,289.3 924.6,292.0C926.3,294.7 927.9,297.3 929.4,300.0C930.9,302.7 932.5,305.3 933.9,308.0C935.3,310.7 936.6,313.3 937.9,316.0C939.2,318.7 940.5,321.3 941.7,324.0C942.9,326.7 944.1,329.3 945.2,332.0C946.3,334.7 947.2,337.0 948.4,340.0C949.6,343.0 951.0,346.7 952.2,350.0C953.4,353.3 954.6,356.7 955.7,360.0C956.8,363.3 957.8,366.7 958.8,370.0C959.8,373.3 960.8,376.7 961.7,380.0C962.6,383.3 963.4,386.7 964.2,390.0C965.0,393.3 965.7,396.3 966.4,400.0C967.1,403.7 967.9,408.0 968.6,412.0C969.3,416.0 970.0,420.0 970.5,424.0C971.0,428.0 971.4,431.7 971.9,436.0C972.4,440.3 972.8,445.2 973.2,450.0C973.6,454.8 973.9,460.0 974.3,465.0C974.7,470.0 975.1,471.5 975.4,480.0C975.7,488.5 976.1,504.6 976.0,516.2C975.9,527.8 975.5,538.8 975.0,549.4C974.5,560.0 973.8,568.3 972.9,580.1C972.0,591.9 970.9,606.6 969.8,620.0C968.7,633.4 967.8,646.9 966.2,660.2C964.7,673.5 962.2,687.8 960.5,700.0C958.8,712.2 957.5,722.1 956.0,733.2C954.5,744.3 952.9,755.3 951.4,766.4C949.9,777.5 948.3,788.5 946.9,799.6C945.5,810.7 944.0,821.7 942.7,832.8C941.4,843.9 939.9,856.3 938.9,866.0C937.9,875.7 937.3,882.6 936.8,890.9C936.3,899.2 936.1,909.8 935.9,915.8C935.7,921.8 935.8,923.2 935.8,927.0C935.8,930.8 935.8,934.9 935.9,938.8C936.0,942.7 936.2,946.7 936.5,950.6C936.8,954.5 937.2,958.4 937.7,962.3C938.2,966.2 938.9,970.1 939.8,973.9C940.7,977.7 941.7,981.4 942.9,985.1C944.1,988.8 945.4,992.5 946.8,996.0C948.2,999.5 949.8,1003.0 951.5,1006.4C953.2,1009.8 955.1,1013.0 957.1,1016.2C959.1,1019.4 961.3,1022.4 963.6,1025.4C965.9,1028.4 968.4,1031.2 970.9,1034.0C973.4,1036.8 976.0,1039.4 978.8,1042.0C981.5,1044.6 984.4,1047.1 987.4,1049.5C990.4,1051.9 993.5,1054.3 996.6,1056.6C999.8,1058.8 1003.0,1061.0 1006.3,1063.0C1009.6,1065.0 1013.0,1066.9 1016.5,1068.7C1020.0,1070.5 1023.5,1072.3 1027.0,1074.0C1030.5,1075.7 1034.2,1077.3 1037.8,1078.8C1041.4,1080.3 1045.1,1081.8 1048.8,1083.1C1052.5,1084.4 1056.3,1085.7 1060.0,1086.9C1063.7,1088.1 1067.5,1089.3 1071.2,1090.4C1075.0,1091.5 1077.8,1092.2 1082.5,1093.4C1087.2,1094.6 1093.7,1096.3 1099.2,1097.6C1104.8,1098.9 1109.0,1099.9 1115.8,1101.4C1122.6,1102.9 1129.8,1104.7 1140.0,1106.7C1150.2,1108.7 1162.8,1111.2 1176.7,1113.3C1190.6,1115.4 1207.9,1117.6 1223.5,1119.6C1239.1,1121.5 1254.6,1123.4 1270.2,1125.0C1285.8,1126.6 1301.3,1127.9 1316.9,1129.2C1332.5,1130.5 1348.0,1131.7 1363.6,1132.9C1379.2,1134.1 1393.7,1135.1 1410.4,1136.2C1427.1,1137.3 1455.1,1138.9 1464.0,1139.4" fill="none" stroke="#00ff00" stroke-width="4.6" stroke-linejoin="round"/>
<circle cx="898.1" cy="258.0" r="14.8" fill="#00ff00"/>
<path d="M556.1,522.7C558.0,519.9 563.8,511.2 567.6,506.1C571.4,501.0 575.0,496.6 578.8,491.8C582.6,487.0 586.4,482.2 590.4,477.5C594.4,472.8 598.6,468.4 602.6,463.7C606.6,459.0 611.6,452.7 614.6,449.2C617.6,445.7 617.6,446.2 620.7,442.9C623.8,439.5 629.1,433.6 633.4,429.1C637.7,424.6 642.0,420.1 646.3,415.7C650.6,411.3 654.8,406.9 659.1,402.5C663.4,398.1 667.6,393.4 671.9,389.0C676.2,384.6 680.6,380.6 685.0,376.3C689.4,372.0 693.7,367.6 698.1,363.2C702.5,358.8 706.8,354.5 711.3,350.0C715.8,345.5 721.6,339.7 725.1,336.2C728.6,332.7 731.2,330.2 732.4,329.0" fill="none" stroke="#9400d3" stroke-width="5.0" stroke-dasharray="2.7 6.6" stroke-dashoffset="0.2"/>
<path d="M718.1,329.0H746.7M732.4,314.7V343.3M718.1,314.7L746.7,343.3M718.1,343.3L746.7,314.7" stroke="#9400d3" stroke-width="1.05" fill="none"/>
<path d="M740.1,320.7C744.0,317.0 754.7,307.0 763.2,298.5C771.7,290.0 782.5,278.6 791.3,269.7C800.0,260.8 809.0,251.7 815.7,244.8C822.5,237.9 828.1,231.9 831.8,228.5C835.5,225.1 835.6,225.4 838.0,224.5C840.4,223.6 844.6,223.1 845.9,222.8" fill="none" stroke="#9400d3" stroke-width="4.6" stroke-linejoin="round"/>
<path d="M845.9,222.8C847.2,223.3 851.2,224.5 854.0,225.6C856.8,226.7 860.1,228.1 862.4,229.3C864.7,230.5 865.8,231.6 867.9,233.0C870.0,234.4 872.5,236.2 874.9,238.0C877.3,239.8 880.1,242.0 882.5,244.0C884.9,246.0 887.3,248.0 889.5,250.0C891.7,252.0 893.9,254.0 895.9,256.0C897.9,258.0 899.8,260.0 901.7,262.0C903.6,264.0 905.1,265.7 907.1,268.0C909.1,270.3 911.5,273.3 913.5,276.0C915.5,278.7 917.5,281.3 919.4,284.0C921.2,286.7 922.9,289.3 924.6,292.0C926.3,294.7 927.9,297.3 929.4,300.0C930.9,302.7 932.5,305.3 933.9,308.0C935.3,310.7 936.6,313.3 937.9,316.0C939.2,318.7 940.5,321.3 941.7,324.0C942.9,326.7 944.1,329.3 945.2,332.0C946.3,334.7 947.2,337.0 948.4,340.0C949.6,343.0 951.0,346.7 952.2,350.0C953.4,353.3 954.6,356.7 955.7,360.0C956.8,363.3 957.8,366.7 958.8,370.0C959.8,373.3 960.8,376.7 961.7,380.0C962.6,383.3 963.4,386.7 964.2,390.0C965.0,393.3 965.7,396.3 966.4,400.0C967.1,403.7 967.9,408.0 968.6,412.0C969.3,416.0 970.0,420.0 970.5,424.0C971.0,428.0 971.4,431.7 971.9,436.0C972.4,440.3 972.8,445.2 973.2,450.0C973.6,454.8 973.9,460.0 974.3,465.0C974.7,470.0 975.1,471.5 975.4,480.0C975.7,488.5 976.1,504.6 976.0,516.2C975.9,527.8 975.5,538.8 975.0,549.4C974.5,560.0 973.8,568.3 972.9,580.1C972.0,591.9 970.9,606.6 969.8,620.0C968.7,633.4 967.8,646.9 966.2,660.2C964.7,673.5 962.2,687.8 960.5,700.0C958.8,712.2 957.5,722.1 956.0,733.2C954.5,744.3 952.9,755.3 951.4,766.4C949.9,777.5 948.3,788.5 946.9,799.6C945.5,810.7 944.0,821.7 942.7,832.8C941.4,843.9 939.9,856.3 938.9,866.0C937.9,875.7 937.3,882.6 936.8,890.9C936.3,899.2 936.1,909.8 935.9,915.8C935.7,921.8 935.8,923.2 935.8,927.0C935.8,930.8 935.8,934.9 935.9,938.8C936.0,942.7 936.2,946.7 936.5,950.6C936.8,954.5 937.2,958.4 937.7,962.3C938.2,966.2 938.9,970.1 939.8,973.9C940.7,977.7 941.7,981.4 942.9,985.1C944.1,988.8 945.4,992.5 946.8,996.0C948.2,999.5 949.8,1003.0 951.5,1006.4C953.2,1009.8 955.1,1013.0 957.1,1016.2C959.1,1019.4 961.3,1022.4 963.6,1025.4C965.9,1028.4 968.4,1031.2 970.9,1034.0C973.4,1036.8 976.0,1039.4 978.8,1042.0C981.5,1044.6 984.4,1047.1 987.4,1049.5C990.4,1051.9 993.5,1054.3 996.6,1056.6C999.8,1058.8 1003.0,1061.0 1006.3,1063.0C1009.6,1065.0 1013.0,1066.9 1016.5,1068.7C1020.0,1070.5 1023.5,1072.3 1027.0,1074.0C1030.5,1075.7 1034.2,1077.3 1037.8,1078.8C1041.4,1080.3 1045.1,1081.8 1048.8,1083.1C1052.5,1084.4 1056.3,1085.7 1060.0,1086.9C1063.7,1088.1 1067.5,1089.3 1071.2,1090.4C1075.0,1091.5 1077.8,1092.2 1082.5,1093.4C1087.2,1094.6 1093.7,1096.3 1099.2,1097.6C1104.8,1098.9 1109.0,1099.9 1115.8,1101.4C1122.6,1102.9 1129.8,1104.7 1140.0,1106.7C1150.2,1108.7 1162.8,1111.2 1176.7,1113.3C1190.6,1115.4 1207.9,1117.6 1223.5,1119.6C1239.1,1121.5 1254.6,1123.4 1270.2,1125.0C1285.8,1126.6 1301.3,1127.9 1316.9,1129.2C1332.5,1130.5 1348.0,1131.7 1363.6,1132.9C1379.2,1134.1 1393.7,1135.1 1410.4,1136.2C1427.1,1137.3 1455.1,1138.9 1464.0,1139.4" fill="none" stroke="#9400d3" stroke-width="4.6" stroke-linejoin="round"/>
<circle cx="845.9" cy="222.8" r="14.8" fill="#9400d3"/>
</g>
<path d="M348.9,966.10H504.9" stroke="#ff1493" stroke-width="4.6" fill="none"/>
<text x="537.2" y="987.6" font-size="57.7">Set 1</text>
<path d="M348.9,1030.67H504.9" stroke="#0000ff" stroke-width="4.6" fill="none"/>
<text x="537.2" y="1052.3" font-size="57.7">Set 2</text>
<path d="M348.9,1095.24H504.9" stroke="#00ff00" stroke-width="4.6" fill="none"/>
<text x="537.2" y="1117.0" font-size="57.7">Set 3</text>
<path d="M348.9,1159.81H504.9" stroke="#9400d3" stroke-width="4.6" fill="none"/>
<text x="537.2" y="1181.8" font-size="57.7">Set 4</text>
<rect x="283.2" y="38.8" width="1180.67" height="1180.65" fill="none" stroke="#000" stroke-width="1.05"/>
<text x="249.9" y="61.6" font-size="60.7" text-anchor="end">2.5</text>
<text x="249.9" y="297.7" font-size="60.7" text-anchor="end">2</text>
<text x="249.9" y="533.9" font-size="60.7" text-anchor="end">1.5</text>
<text x="249.9" y="770.0" font-size="60.7" text-anchor="end">1</text>
<text x="249.9" y="1006.1" font-size="60.7" text-anchor="end">0.5</text>
<text x="249.9" y="1242.2" font-size="60.7" text-anchor="end">0</text>
<text x="358.8" y="1310.1" font-size="60.7" text-anchor="middle">8</text>
<text x="493.0" y="1310.1" font-size="60.7" text-anchor="middle">9</text>
<text x="627.1" y="1310.1" font-size="60.7" text-anchor="middle">10</text>
<text x="761.3" y="1310.1" font-size="60.7" text-anchor="middle">11</text>
<text x="895.5" y="1310.1" font-size="60.7" text-anchor="middle">12</text>
<text x="1029.6" y="1310.1" font-size="60.7" text-anchor="middle">13</text>
<text x="1163.8" y="1310.1" font-size="60.7" text-anchor="middle">14</text>
<text x="1298.0" y="1310.1" font-size="60.7" text-anchor="middle">15</text>
<text x="1432.1" y="1310.1" font-size="60.7" text-anchor="middle">16</text>
<text x="874.0" y="1412.8" font-size="60.3" text-anchor="middle"><tspan font-style="italic">R</tspan> (km)</text>
<text transform="translate(70.5,629) rotate(-90)" font-size="60.4" text-anchor="middle"><tspan font-style="italic">M</tspan> (<tspan font-style="italic">M</tspan><tspan font-size="48" dy="13.1" font-family="DejaVu Sans, sans-serif" font-style="normal">&#x2299;</tspan><tspan dy="-13.1">)</tspan></text>
<text class="an" x="323.6" y="285.3" font-size="44.9">J0348+0432</text>
<text class="an" x="323.6" y="363.3" font-size="44.9">J1614-2230</text>
<text class="an" x="1169.3" y="245.2" font-size="44.9">J0740+6620</text>
<text class="an" x="954.9" y="387.0" font-size="44.9">GW190425</text>
<text class="an" x="619.0" y="542.0" font-size="44.9">GW170817</text>
</svg></body></html>
